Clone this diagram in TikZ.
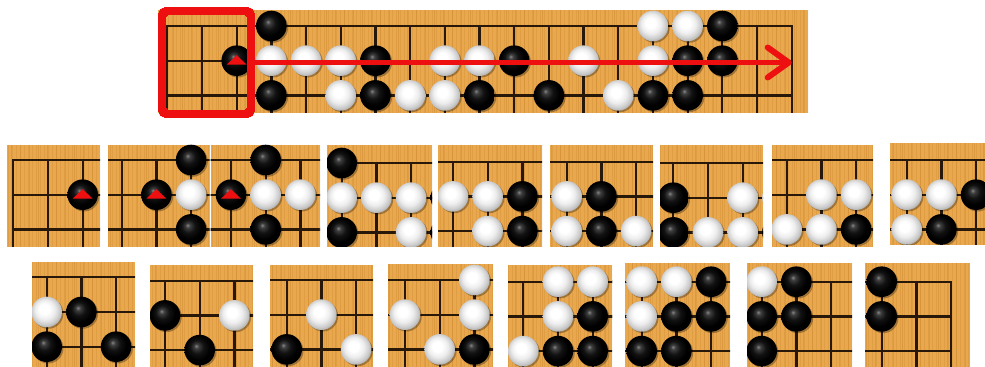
\documentclass[tikz,border=0pt]{standalone}
\usetikzlibrary{arrows.meta}
\definecolor{wood}{RGB}{234,168,78}
\definecolor{grain}{RGB}{208,140,52}
\definecolor{gline}{RGB}{40,24,10}
\definecolor{cred}{RGB}{238,16,16}
\pgfdeclareradialshading{blackstone}{\pgfpoint{-6bp}{7bp}}{%
  color(0bp)=(black!48); color(4bp)=(black!76); color(11bp)=(black!93);
  color(20bp)=(black); color(40bp)=(black)}
\pgfdeclareradialshading{whitestone}{\pgfpoint{-5bp}{6bp}}{%
  color(0bp)=(white); color(8bp)=(white); color(16bp)=(black!7);
  color(23bp)=(black!20); color(29bp)=(black!36); color(40bp)=(black!45)}
\tikzset{
  every picture/.style={x=0.02cm, y=-0.02cm},
  gridline/.style={gline, line width=1.3pt, line cap=rect},
  grainline/.style={grain, line width=0.45pt, opacity=0.35},
  stoneshadow/.style={black, opacity=0.3},
  redbox/.style={draw=cred, line width=4.5pt, rounded corners=3pt,
    minimum width=1.78cm, minimum height=2.06cm, inner sep=0pt},
  redarrow/.style={cred, line width=3.4pt,
    -{Straight Barb[length=0.42cm, width=0.6cm, round]}},
}
\def\gs{34.69}
\def\srad{15.3}
\newcommand{\blackstones}{3/0,16/0,2/1,6/1,10/1,15/1,16/1,3/2,6/2,9/2,11/2,14/2,15/2}
\newcommand{\whitestones}{14/0,15/0,3/1,4/1,5/1,8/1,9/1,12/1,14/1,5/2,7/2,8/2,13/2}
% top three lines of the board, origin on the first line
\newcommand{\goboard}{%
  \foreach \r in {0,1,2} \draw[gridline] (0,\r*\gs) -- (18*\gs,\r*\gs);
  \foreach \c in {0,...,18} \draw[gridline] (\c*\gs,0) -- (\c*\gs,140);
  \foreach \c/\r in \blackstones {
    \fill[stoneshadow] (\c*\gs+1.5,\r*\gs+1.5) circle (\srad);
    \shade[shading=blackstone] (\c*\gs,\r*\gs) circle (\srad);
  }
  \foreach \c/\r in \whitestones {
    \fill[stoneshadow] (\c*\gs+1.5,\r*\gs+1.5) circle (\srad);
    \shade[shading=whitestone] (\c*\gs,\r*\gs) circle (\srad);
  }
  \fill[cred] (2*\gs-10,\gs+4) -- ++(20,0) -- ++(-10,-9.5) -- cycle;
}
% window x0,y0,x1,y1 ; first column, its x ; y of the top line
\newcommand{\patch}[7]{%
  \begin{scope}
    \clip (#1,#2) rectangle (#3,#4);
    \fill[wood] (#1,#2) rectangle (#3,#4);
    \draw[grainline] \foreach \gx in {0,4,...,988} {(\gx,#2) -- (\gx,#4)};
    \draw[grainline, opacity=0.5] \foreach \gx in {2,11,...,988} {(\gx,#2) -- (\gx,#4)};
    \pgfmathsetmacro{\ox}{#6-#5*\gs}
    \begin{scope}[shift={(\ox,#7)}]
      \goboard
    \end{scope}
  \end{scope}
}

\begin{document}
\begin{tikzpicture}
  \useasboundingbox[fill=white] (0,0) rectangle (985,367);
  \patch{158}{10}{808}{113}{0}{167.3}{26}
  \foreach \xa/\ya/\xb/\yb/\cf/\xc/\yr in {
    7/145/100/247/0/13.3/160, 108/145/209.5/247/1/121.7/160,
    210.5/145/320/247/2/231/160, 327/145/432/247/3/341.7/163,
    438/145/542/247/4/453/161.7, 550/145/653/247/5/566.7/161.7,
    660/145/763/247/6/673.3/163, 772/145/873/247/7/786.7/160,
    890/143/985/245/8/906.7/160,
    32/262/135/367/9/46.7/277.3, 150/265/253/367/10/165/280.7,
    270/265/373/367/11/286.7/280, 388/264/493/367/12/405/280,
    508/265/612/367/13/523.3/281.7, 625/263/730/367/14/641.7/281.7,
    747/263/852/367/15/761.7/281.7, 865/263/970/367/16/881.7/281.7}
    \patch{\xa}{\ya}{\xb}{\yb}{\cf}{\xc}{\yr}
  \node[redbox] (win) at (206.5,62.5) {};
  \coordinate (tip) at (791.7,62.5);
  \draw[redarrow] (win.east) -- (tip);
\end{tikzpicture}
\end{document}
